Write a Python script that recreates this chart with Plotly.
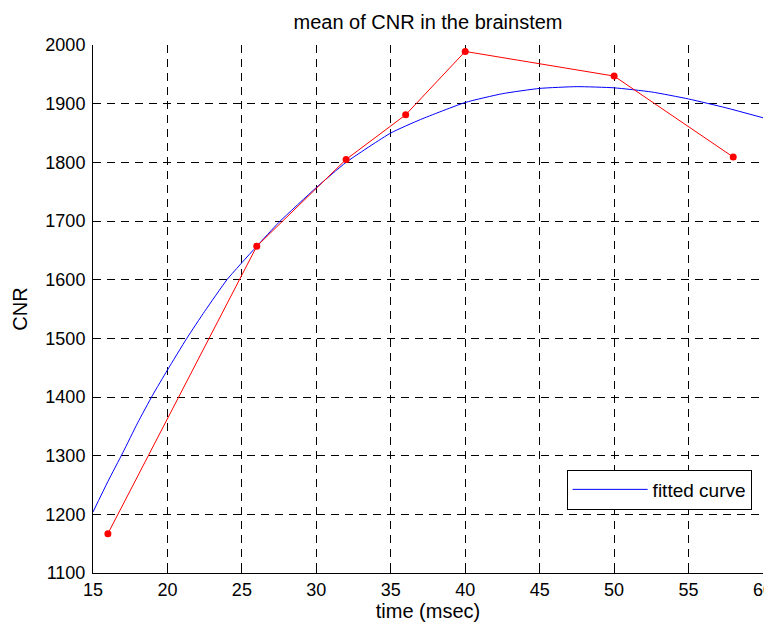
import plotly.graph_objects as go

# measured data (red)
time_ms = [16, 26, 32, 36, 40, 50, 58]
cnr_mean = [1167, 1657, 1805, 1881, 1989, 1947, 1809]

# fitted curve (blue)
fit_x = [15, 16, 17, 18, 19, 20, 21.3, 22.5, 24, 25, 26, 27.5, 30, 32, 35, 37, 40, 42.5, 45, 47.5, 50, 52.5, 55, 57.5, 60]
fit_y = [1204, 1256, 1305, 1356, 1403, 1446, 1500, 1546, 1600, 1629, 1657, 1698, 1757, 1800, 1850, 1873, 1902, 1917, 1926, 1929, 1927, 1920, 1908, 1893, 1876]

x_ticks = [15, 20, 25, 30, 35, 40, 45, 50, 55, 60]
y_ticks = [1100, 1200, 1300, 1400, 1500, 1600, 1700, 1800, 1900, 2000]

FONT = "Liberation Sans, Arial, sans-serif"
TICK_FS = 18
LABEL_FS = 20

# page body has an 8px margin: the figure is drawn 8px in from the top-left
W, H = 764, 617

fig = go.Figure()
fig.add_trace(go.Scatter(
    x=fit_x, y=fit_y, mode="lines", name="fitted curve",
    line=dict(color="#0000ff", width=1, shape="spline", smoothing=0.5),
))
fig.add_trace(go.Scatter(
    x=time_ms, y=cnr_mean, mode="lines+markers", showlegend=False,
    line=dict(color="#ff0000", width=1),
    marker=dict(color="#ff0000", size=7),
))

axis_common = dict(
    showgrid=True, gridcolor="black", gridwidth=1, griddash="8px,6px",
    showline=True, linecolor="black", linewidth=1,
    ticks="inside", ticklen=5, tickcolor="black", automargin=False,
    ticklabeloverflow="allow",
    zeroline=False, tickfont=dict(family=FONT, size=TICK_FS, color="black"),
)

fig.update_layout(
    width=W, height=H,
    margin=dict(l=85, r=9, t=37, b=52),
    paper_bgcolor="white", plot_bgcolor="white",
    font=dict(family=FONT, size=TICK_FS, color="black"),
    title=dict(text="mean of CNR in the brainstem", x=(85 + 755) / 2 / W, xanchor="center",
               y=1 - 14 / H, yanchor="middle", yref="container",
               font=dict(family=FONT, size=LABEL_FS, color="black")),
    xaxis=dict(range=[15, 60], tickvals=x_ticks, ticktext=[str(v) for v in x_ticks],
               title=dict(text="time (msec)", standoff=0, font=dict(size=LABEL_FS)), **axis_common),
    yaxis=dict(range=[1100, 2000], tickvals=y_ticks, ticktext=[str(v) for v in y_ticks],
               ticklabelstandoff=3,
               title=dict(text="CNR", standoff=12, font=dict(size=LABEL_FS)), **axis_common),
    legend=dict(x=0.983, y=0.196, xanchor="right", yanchor="top",
                bordercolor="black", borderwidth=1, bgcolor="white",
                font=dict(family=FONT, size=19, color="black"), itemwidth=75),
)

fig.write_html("out.html")
